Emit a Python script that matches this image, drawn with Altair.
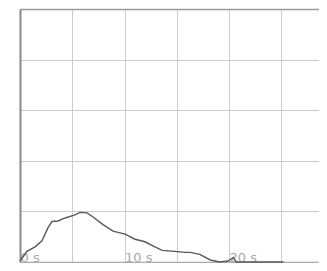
import altair as alt
import pandas as pd

times = [0, 0.67, 1.44, 2.1, 2.68, 3.06, 3.64, 4.31, 5.26, 5.74, 6.41, 6.99, 7.94, 8.9,
         10.05, 11.0, 11.96, 12.9, 13.6, 14.8, 15.8, 16.3, 17.2, 18.2, 19.1, 19.9, 20.4, 20.7,
         25.2]
values = [0.02, 0.21, 0.30, 0.42, 0.68, 0.80, 0.81, 0.87, 0.93, 0.98, 0.97, 0.89, 0.74, 0.61,
          0.55, 0.45, 0.40, 0.30, 0.23, 0.21, 0.19, 0.19, 0.15, 0.04, 0.0, 0.02, 0.09, 0.0,
          0.0]
x_ticks = [0, 5, 10, 15, 20, 25]
y_ticks = [0, 1, 2, 3, 4, 5]

df = pd.DataFrame({"t": times, "v": values})

chart = alt.Chart(df).mark_line(color="#5a5a5a", strokeWidth=1.4).encode(
    x=alt.X("t:Q", scale=alt.Scale(domain=[0, 28.6], nice=False),
            axis=alt.Axis(values=x_ticks, title=None, grid=True, gridColor="#cccccc",
                          gridWidth=1,
                          domain=True, domainColor="#aaaaaa", domainWidth=1.5,
                          ticks=False, tickSize=0,
                          labelExpr="datum.value % 10 == 0 ? datum.value + ' s' : ''",
                          labelAlign="left", labelBaseline="alphabetic", labelPadding=-1,
                          labelFont="DejaVu Sans", labelFontSize=13,
                          labelColor="#a8a8a8")),
    y=alt.Y("v:Q", scale=alt.Scale(domain=[0, 5], nice=False),
            axis=alt.Axis(values=y_ticks, title=None, grid=True,
                          gridColor={"condition": {"test": "datum.value == 5", "value": "#9a9a9a"},
                                     "value": "#cccccc"},
                          gridWidth={"condition": {"test": "datum.value == 5", "value": 1.6},
                                     "value": 1},
                          labels=False, ticks=False, domain=True, domainColor="#888888",
                          domainWidth=2)),
).properties(
    width=299, height=253,
    autosize=alt.AutoSizeParams(type="none"),
    padding={"left": 12, "top": 1, "right": 0, "bottom": 1},
).configure_view(strokeWidth=0)

chart.save("out.html", embed_options={"renderer": "svg", "actions": False})
